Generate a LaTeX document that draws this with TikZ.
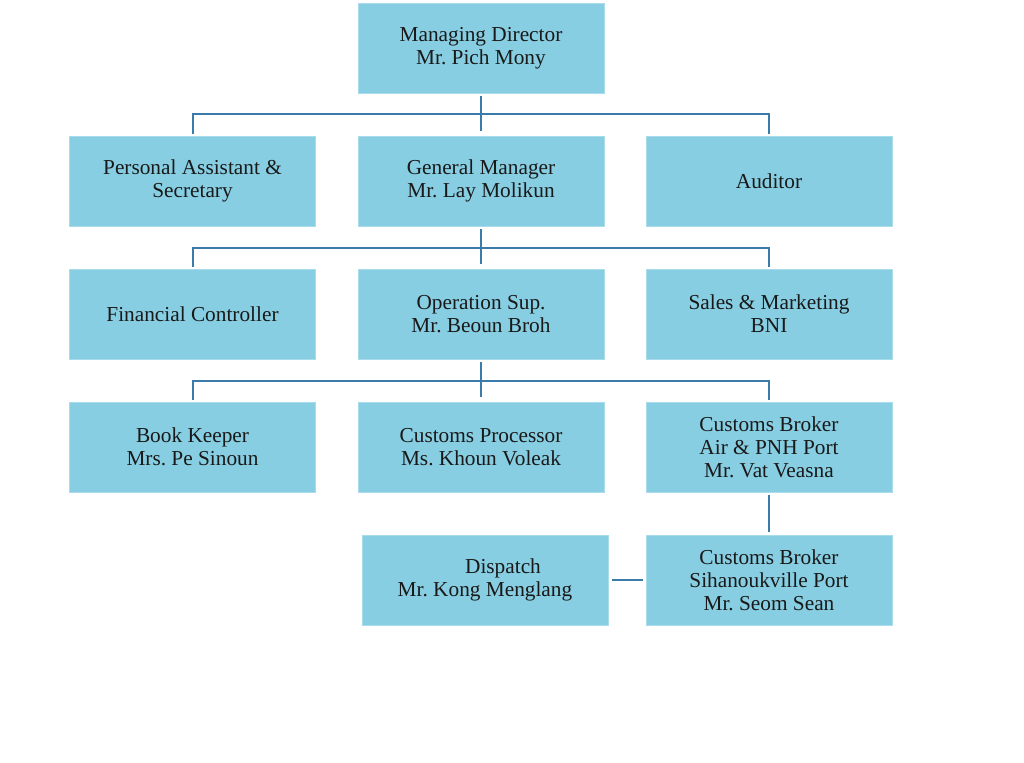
\documentclass[tikz,border=0pt]{standalone}
\usepackage{fontspec}
\setmainfont{Liberation Serif}
\usetikzlibrary{calc}
\definecolor{boxfill}{HTML}{87CEE2}
\definecolor{boxline}{HTML}{A8DCEC}
\definecolor{conn}{HTML}{3B7BAA}
\tikzset{
  orgbox/.style={rectangle, fill=boxfill, draw=boxline, line width=0.8pt,
    minimum width=246pt, minimum height=90pt, inner sep=0pt,
    align=center, font=\fontsize{21.3}{23}\selectfont\frenchspacing, text=black!90},
  link/.style={draw=conn, line width=2pt}
}
\begin{document}
\begin{tikzpicture}[x=1pt,y=-1pt]
\useasboundingbox[fill=white] (0,0) rectangle (1024,762);
\node[orgbox] (md) at (481,48) {Managing Director\\Mr. Pich Mony};
\node[orgbox] (pa) at (192.5,181) {Personal Assistant \&\\Secretary};
\node[orgbox] (gm) at (481,181) {General Manager\\Mr. Lay Molikun};
\node[orgbox] (au) at (769,181) {Auditor};
\node[orgbox] (fc) at (192.5,314) {Financial Controller};
\node[orgbox] (os) at (481,314) {Operation Sup.\\Mr. Beoun Broh};
\node[orgbox] (sm) at (769,314) {Sales \& Marketing\\BNI};
\node[orgbox] (bk) at (192.5,447) {Book Keeper\\Mrs. Pe Sinoun};
\node[orgbox] (cp) at (481,447) {Customs Processor\\Ms. Khoun Voleak};
\node[orgbox] (cba) at (769,447) {Customs Broker\\Air \& PNH Port\\Mr. Vat Veasna};
\node[orgbox] (dp) at (485,580) {\hspace*{36pt}Dispatch\\Mr. Kong Menglang};
\node[orgbox] (cbs) at (769,580) {Customs Broker\\Sihanoukville Port\\Mr. Seom Sean};
% level 1
\draw[link] ([yshift=-3pt]md.south) -- ([yshift=5pt]gm.north);
\draw[link] ([yshift=2pt]pa.north) |- ($(md.south)!0.5!(gm.north)$) -| ([yshift=2pt]au.north);
% level 2
\draw[link] ([yshift=-3pt]gm.south) -- ([yshift=5pt]os.north);
\draw[link] ([yshift=2pt]fc.north) |- ($(gm.south)!0.5!(os.north)$) -| ([yshift=2pt]sm.north);
% level 3
\draw[link] ([yshift=-3pt]os.south) -- ([yshift=5pt]cp.north);
\draw[link] ([yshift=2pt]bk.north) |- ($(os.south)!0.5!(cp.north)$) -| ([yshift=2pt]cba.north);
% level 4
\draw[link] ([yshift=-3pt]cba.south) -- ([yshift=3pt]cbs.north);
\draw[link] ([xshift=4pt]dp.east) -- ([xshift=-3pt]cbs.west);
\end{tikzpicture}
\end{document}
